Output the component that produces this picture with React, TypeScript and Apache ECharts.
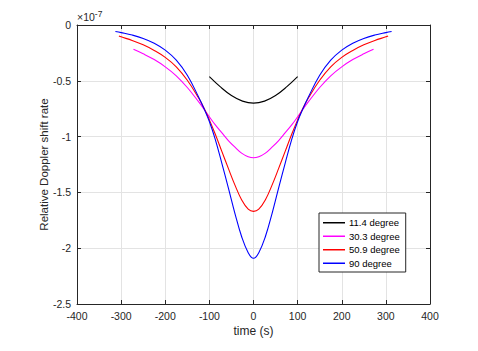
import React, { useEffect, useRef } from "react";
import * as echarts from "echarts";

// Values in units of 1e-7 (axis shows ×10^-7)
const blueTimes = [-313, -300, -275, -250, -225, -200, -175, -150, -125, -112, -100, -87, -72, -57, -42, -27, -12, 0, 12, 27, 42, 57, 72, 87, 100, 112, 125, 150, 175, 200, 225, 250, 275, 300, 313];
const blueValues = [-0.058, -0.068, -0.09, -0.12, -0.163, -0.225, -0.315, -0.45, -0.64, -0.75, -0.865, -1.02, -1.235, -1.46, -1.69, -1.895, -2.04, -2.09, -2.04, -1.895, -1.69, -1.46, -1.235, -1.02, -0.865, -0.75, -0.64, -0.45, -0.315, -0.225, -0.163, -0.12, -0.09, -0.068, -0.058];

const redTimes = [-305, -300, -275, -250, -225, -200, -175, -150, -125, -112, -100, -87, -72, -57, -42, -27, -12, 0, 12, 27, 42, 57, 72, 87, 100, 112, 125, 150, 175, 200, 225, 250, 275, 300, 305];
const redValues = [-0.098, -0.106, -0.138, -0.178, -0.228, -0.29, -0.375, -0.495, -0.65, -0.745, -0.85, -0.975, -1.13, -1.285, -1.435, -1.565, -1.65, -1.67, -1.65, -1.565, -1.435, -1.285, -1.13, -0.975, -0.85, -0.745, -0.65, -0.495, -0.375, -0.29, -0.228, -0.178, -0.138, -0.106, -0.098];

const magentaTimes = [-272, -250, -225, -200, -175, -150, -125, -112, -100, -87, -72, -57, -42, -27, -12, 0, 12, 27, 42, 57, 72, 87, 100, 112, 125, 150, 175, 200, 225, 250, 272];
const magentaValues = [-0.218, -0.258, -0.31, -0.375, -0.455, -0.56, -0.685, -0.755, -0.823, -0.893, -0.965, -1.035, -1.095, -1.148, -1.18, -1.19, -1.18, -1.148, -1.095, -1.035, -0.965, -0.893, -0.823, -0.755, -0.685, -0.56, -0.455, -0.375, -0.31, -0.258, -0.218];

const blackTimes = [-100, -75, -50, -25, 0, 25, 50, 75, 100];
const blackValues = [-0.463, -0.555, -0.632, -0.682, -0.7, -0.682, -0.632, -0.555, -0.463];

const seriesNames = ["11.4 degree", "30.3 degree", "50.9 degree", "90 degree"];
const seriesColors = ["#000000", "#ff00ff", "#ff0000", "#0000ff"];

const xTicks = { min: -400, max: 400, interval: 100 };
const yTicks = { min: -2.5, max: 0, interval: 0.5 };

const FONT = "Liberation Sans, Arial, Helvetica, sans-serif";
const AXIS_COLOR = "#262626";

function zip(t: number[], v: number[]) {
  return t.map((x, i) => [x, v[i]]);
}

export default function App() {
  const ref = useRef<HTMLDivElement>(null);
  useEffect(() => {
    document.body.style.margin = "0";
    if (!ref.current) return;
    const chart = echarts.init(ref.current, undefined, { renderer: "svg" });
    const seriesData = [
      zip(blackTimes, blackValues),
      zip(magentaTimes, magentaValues),
      zip(redTimes, redValues),
      zip(blueTimes, blueValues),
    ];
    const tickStyle = { show: true, inside: true, length: 4, lineStyle: { color: AXIS_COLOR, width: 1 } };
    const lineStyle = { color: AXIS_COLOR, width: 1 };
    chart.setOption({
      animation: false,
      backgroundColor: "#ffffff",
      grid: { left: 77, right: 48, top: 25, bottom: 47, containLabel: false },
      xAxis: [
        {
          type: "value",
          ...xTicks,
          name: "time (s)",
          nameLocation: "middle",
          nameGap: 21,
          nameMoveOverlap: false,
          nameTextStyle: { fontFamily: FONT, fontSize: 12, color: AXIS_COLOR },
          axisLine: { show: true, onZero: false, lineStyle },
          axisTick: tickStyle,
          axisLabel: { fontFamily: FONT, fontSize: 10.5, color: AXIS_COLOR, margin: 6 },
          splitLine: { show: true, lineStyle: { color: "#e3e3e3", width: 1 } },
        },
        {
          type: "value",
          position: "top",
          ...xTicks,
          axisLine: { show: true, onZero: false, lineStyle },
          axisTick: tickStyle,
          axisLabel: { show: false },
          splitLine: { show: false },
        },
      ],
      yAxis: [
        {
          type: "value",
          ...yTicks,
          name: "Relative Doppler shift rate",
          nameLocation: "middle",
          nameGap: 27,
          nameMoveOverlap: false,
          nameTextStyle: { fontFamily: FONT, fontSize: 11.5, color: AXIS_COLOR },
          axisLine: { show: true, onZero: false, lineStyle },
          axisTick: tickStyle,
          axisLabel: { fontFamily: FONT, fontSize: 10.5, color: AXIS_COLOR, margin: 6 },
          splitLine: { show: true, lineStyle: { color: "#e3e3e3", width: 1 } },
        },
        {
          type: "value",
          position: "right",
          ...yTicks,
          axisLine: { show: true, onZero: false, lineStyle },
          axisTick: tickStyle,
          axisLabel: { show: false },
          splitLine: { show: false },
        },
      ],
      legend: {
        orient: "vertical",
        left: 319,
        top: 213,
        padding: [3, 6, 2, 4],
        itemGap: 0,
        itemWidth: 22,
        itemHeight: 1.5,
        icon: "rect",
        borderColor: AXIS_COLOR,
        borderWidth: 1,
        backgroundColor: "#ffffff",
        textStyle: { fontFamily: FONT, fontSize: 9.5, color: "#000000", lineHeight: 13.5, padding: [0, 0, 0, -1] },
        data: seriesNames,
      },
      graphic: [
        {
          type: "text",
          left: 77,
          top: 9,
          style: {
            text: "×10{sup|-7}",
            fontFamily: FONT,
            fontSize: 10.5,
            fill: AXIS_COLOR,
            rich: { sup: { fontSize: 8.5, verticalAlign: "top", padding: [0, 0, 6, 0], fill: AXIS_COLOR, fontFamily: FONT } },
          },
        },
      ],
      series: seriesNames.map((name, i) => ({
        name,
        type: "line",
        data: seriesData[i],
        showSymbol: false,
        symbol: "none",
        smooth: 0.4,
        lineStyle: { color: seriesColors[i], width: 1.1 },
        itemStyle: { color: seriesColors[i] },
        xAxisIndex: 0,
        yAxisIndex: 0,
      })),
    });
    return () => chart.dispose();
  }, []);
  return <div ref={ref} style={{ width: 478, height: 351 }} />;
}
